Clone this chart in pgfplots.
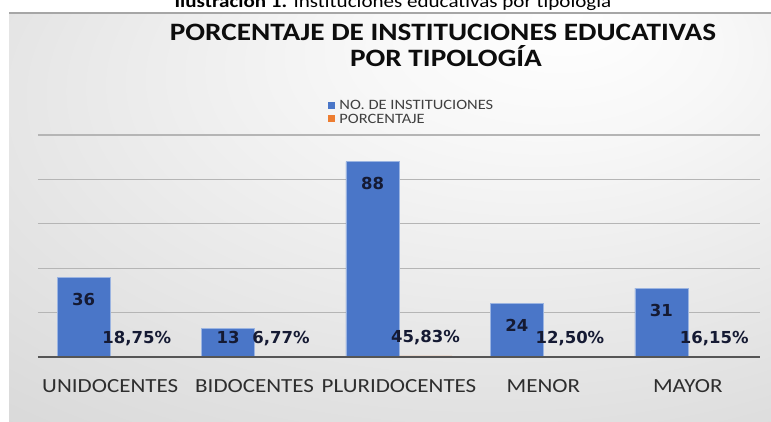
\documentclass[border=0pt]{standalone}
\usepackage{pgfplots}
\pgfplotsset{compat=1.18}
\usepackage{fontspec}
\setmainfont{Carlito}
\newfontfamily\dvb{DejaVu Sans}
\usepackage{graphicx}
\definecolor{barblue}{HTML}{4A76C8}
\definecolor{barorange}{HTML}{ED7D31}
\definecolor{lblnavy}{HTML}{151A33}
\definecolor{gridgray}{HTML}{B5B5B5}
\definecolor{axisgray}{HTML}{555555}
\definecolor{txt}{HTML}{2E2E2E}
\newcommand\sx[2][1.15]{\scalebox{#1}[1]{#2}}
\pgfdeclareradialshading{bgshade}{\pgfpoint{12bp}{25bp}}{color(0bp)=(white); color(12bp)=(white!97!black); color(75bp)=(black!25)}
\begin{document}
\begin{tikzpicture}[x=1pt,y=1pt]
\useasboundingbox (0,0) rectangle (771,422);
\node[anchor=base, font=\fontsize{18}{20}\selectfont, text=black] at (393,414) {\sx[1.17]{\textbf{Ilustración 1.} Instituciones educativas por tipología}};
\shade[shading=bgshade] (9,0) rectangle (771,409);
\draw[black!35, line width=1.5pt] (9,409) -- (771,409);
\node[anchor=base, font=\fontsize{25}{28}\selectfont\bfseries, text=black!95] at (443,381) {\sx[1.17]{PORCENTAJE DE INSTITUCIONES EDUCATIVAS}};
\node[anchor=base, font=\fontsize{25}{28}\selectfont\bfseries, text=black!95] at (446,355) {\sx[1.17]{POR TIPOLOGÍA}};
\begin{axis}[
  at={(38pt,65pt)}, anchor=south west, scale only axis,
  width=722pt, height=222pt,
  xmin=-0.5, xmax=4.5, ymin=0, ymax=100,
  ybar=0pt, bar width=53pt,
  /pgf/number format/assume math mode=true,
  axis x line*=bottom, axis y line*=left,
  x axis line style={draw=none},
  y axis line style={draw=none},
  xtick={0,1,2,3,4},
  xticklabels={\sx{UNIDOCENTES},\sx{BIDOCENTES},\sx{PLURIDOCENTES},\sx{MENOR},\sx{MAYOR}},
  xtick style={draw=none},
  ytick={20,40,60,80,100}, yticklabels={}, ytick style={draw=none},
  ymajorgrids, grid style={gridgray, line width=1.1pt},
  xticklabel style={anchor=center, yshift=-25pt, font=\fontsize{20}{24}\selectfont, text=txt},
  legend style={at={(0.402,1.167)}, anchor=north west, draw=none, fill=none,
    font=\fontsize{14.3}{16}\selectfont, text=black!75, legend cell align=left,
    row sep=-1pt, inner sep=0pt, column sep=2pt},
  legend image code/.code={\fill[#1,draw=none] (0pt,-3pt) rectangle (7pt,4pt);},
  clip=false,
]
\addplot[fill=barblue, draw=barblue!55!white, line width=0.6pt,
  nodes near coords={\pgfmathprintnumber{\pgfplotspointmeta}},
  visualization depends on={y \as \rawy},
  every node near coord/.append style={anchor=center, font=\dvb\bfseries\fontsize{16.5}{18}\selectfont, text=lblnavy, yshift={-min(22,2.22*\rawy-20)}}]
  coordinates {(0,36) (1,13) (2,88) (3,24) (4,31)};
\addplot[fill=barorange, draw=none, point meta=explicit symbolic, nodes near coords,
  every node near coord/.append style={anchor=center, yshift=18.5pt, font=\dvb\bfseries\fontsize{16.5}{18}\selectfont, text=lblnavy}]
  coordinates {(0,0.1875) [{18,75\%}] (1,0.0677) [{6,77\%}] (2,0.4583) [{45,83\%}] (3,0.125) [{12,50\%}] (4,0.1615) [{16,15\%}]};
\legend{\sx{NO. DE INSTITUCIONES},\sx{PORCENTAJE}}
\end{axis}
\begin{axis}[
  at={(38pt,65pt)}, anchor=south west, scale only axis,
  width=722pt, height=222pt,
  xmin=-0.5, xmax=4.5, ymin=0, ymax=100,
  axis x line*=bottom, axis y line=none,
  x axis line style={axisgray, line width=2.5pt, -},
  xtick=\empty, ytick=\empty,
]
\end{axis}
\end{tikzpicture}
\end{document}
